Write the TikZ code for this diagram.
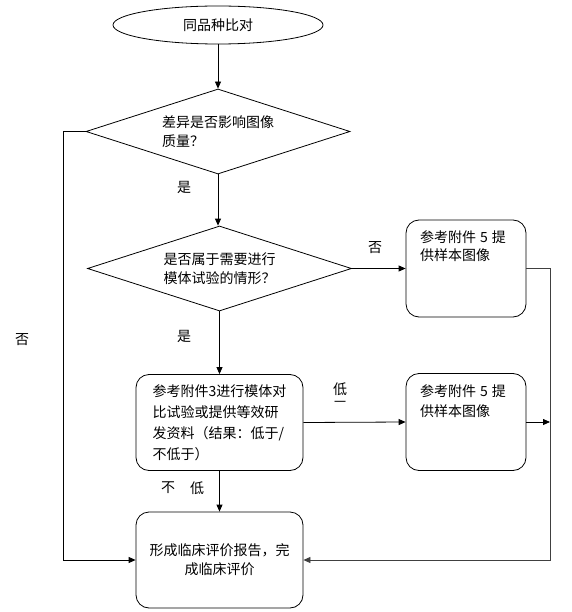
\documentclass[tikz,border=0pt]{standalone}
\usepackage{fontspec}
\setmainfont{Noto Sans CJK SC}
\usetikzlibrary{shapes.geometric,arrows.meta}
\begin{document}
\begin{tikzpicture}[x=1pt,y=-1pt,
  every node/.style={font=\fontsize{14pt}{19pt}\selectfont},
  line/.style={draw=black, line width=0.8pt},
  arr/.style={line, -{Triangle[length=7pt,width=6pt]}},
  dia/.style={draw, line width=0.8pt, diamond, aspect=3.1, inner sep=0pt, minimum width=264pt, minimum height=85pt, align=left},
  rbox/.style={draw, line width=0.8pt, rounded corners=13pt, minimum width=167pt, minimum height=96pt, inner sep=0pt},
  sbox/.style={draw, line width=0.8pt, rounded corners=13pt, minimum width=120pt, minimum height=97pt, inner sep=0pt},
  lbl/.style={inner sep=0pt}
]
\useasboundingbox (0,0) rectangle (571,612);
% nodes
\node[draw, line width=0.8pt, ellipse, minimum width=210pt, minimum height=38pt, inner sep=0pt] (start) at (218,25) {同品种比对};
\node[dia] (d1) at (218,131.5) {差异是否影响图像\\质量？};
\node[dia] (d2) at (219.5,268.5) {是否属于需要进行\\模体试验的情形？};
\node[sbox] (bA) at (466,268.5) {};
\node[lbl, anchor=north west, align=left, font=\fontsize{14pt}{18pt}\selectfont] (tA) at (420,230) {参考附件\hspace{4pt}5\hspace{4pt}提\\供样本图像};
\node[rbox, align=left, font=\fontsize{14pt}{21pt}\selectfont] (bB) at (219.5,422.5) {参考附件3进行模体对\\比试验或提供等效研\\发资料（结果：低于/\\不低于）};
\node[sbox] (bC) at (466,422) {};
\node[lbl, anchor=north west, align=left, font=\fontsize{14pt}{20pt}\selectfont] (tC) at (420,384) {参考附件\hspace{4pt}5\hspace{4pt}提\\供样本图像};
\node[rbox, align=center] (bD) at (219.5,560) {形成临床评价报告，完\\成临床评价};
% coordinates
\coordinate (cL1) at (63,131.5);
\coordinate (cL2) at (63,560);
\coordinate (cR1) at (550,268.5);
\coordinate (cR2) at (550,560);
\coordinate (cRC) at (550,422);
% labels
\node[lbl] (y1) at (184,187) {是};
\node[lbl] (y2) at (184,336) {是};
\node[lbl] (n1) at (375,248) {否};
\node[lbl] (n2) at (22,340) {否};
\node[lbl] (low) at (340,389) {低};
\node[lbl, font=\fontsize{12pt}{12pt}\selectfont] (lowdash) at (340,404) {一};
\node[lbl] (nl1) at (168,488) {不};
\node[lbl] (nl2) at (197,488) {低};
% connectors
\draw[arr] (start) -- (d1);
\draw[arr] (d1) -- (d1.south |- d2.north);
\draw[arr] (d2.east) -- (bA.west);
\draw[arr] (d2.south) -- (d2.south |- bB.north);
\draw[arr] (bB.east) -- (bC.west);
\draw[arr] (bB) -- (bD);
\draw[arr] (bC.east) -- (cRC);
\draw[arr, draw=black!75] (bA.east) -- (cR1) -- (cR2) -- (bD.east);
\draw[arr] (d1.west) -- (cL1) -- (cL2) -- (bD.west);
\end{tikzpicture}
\end{document}
